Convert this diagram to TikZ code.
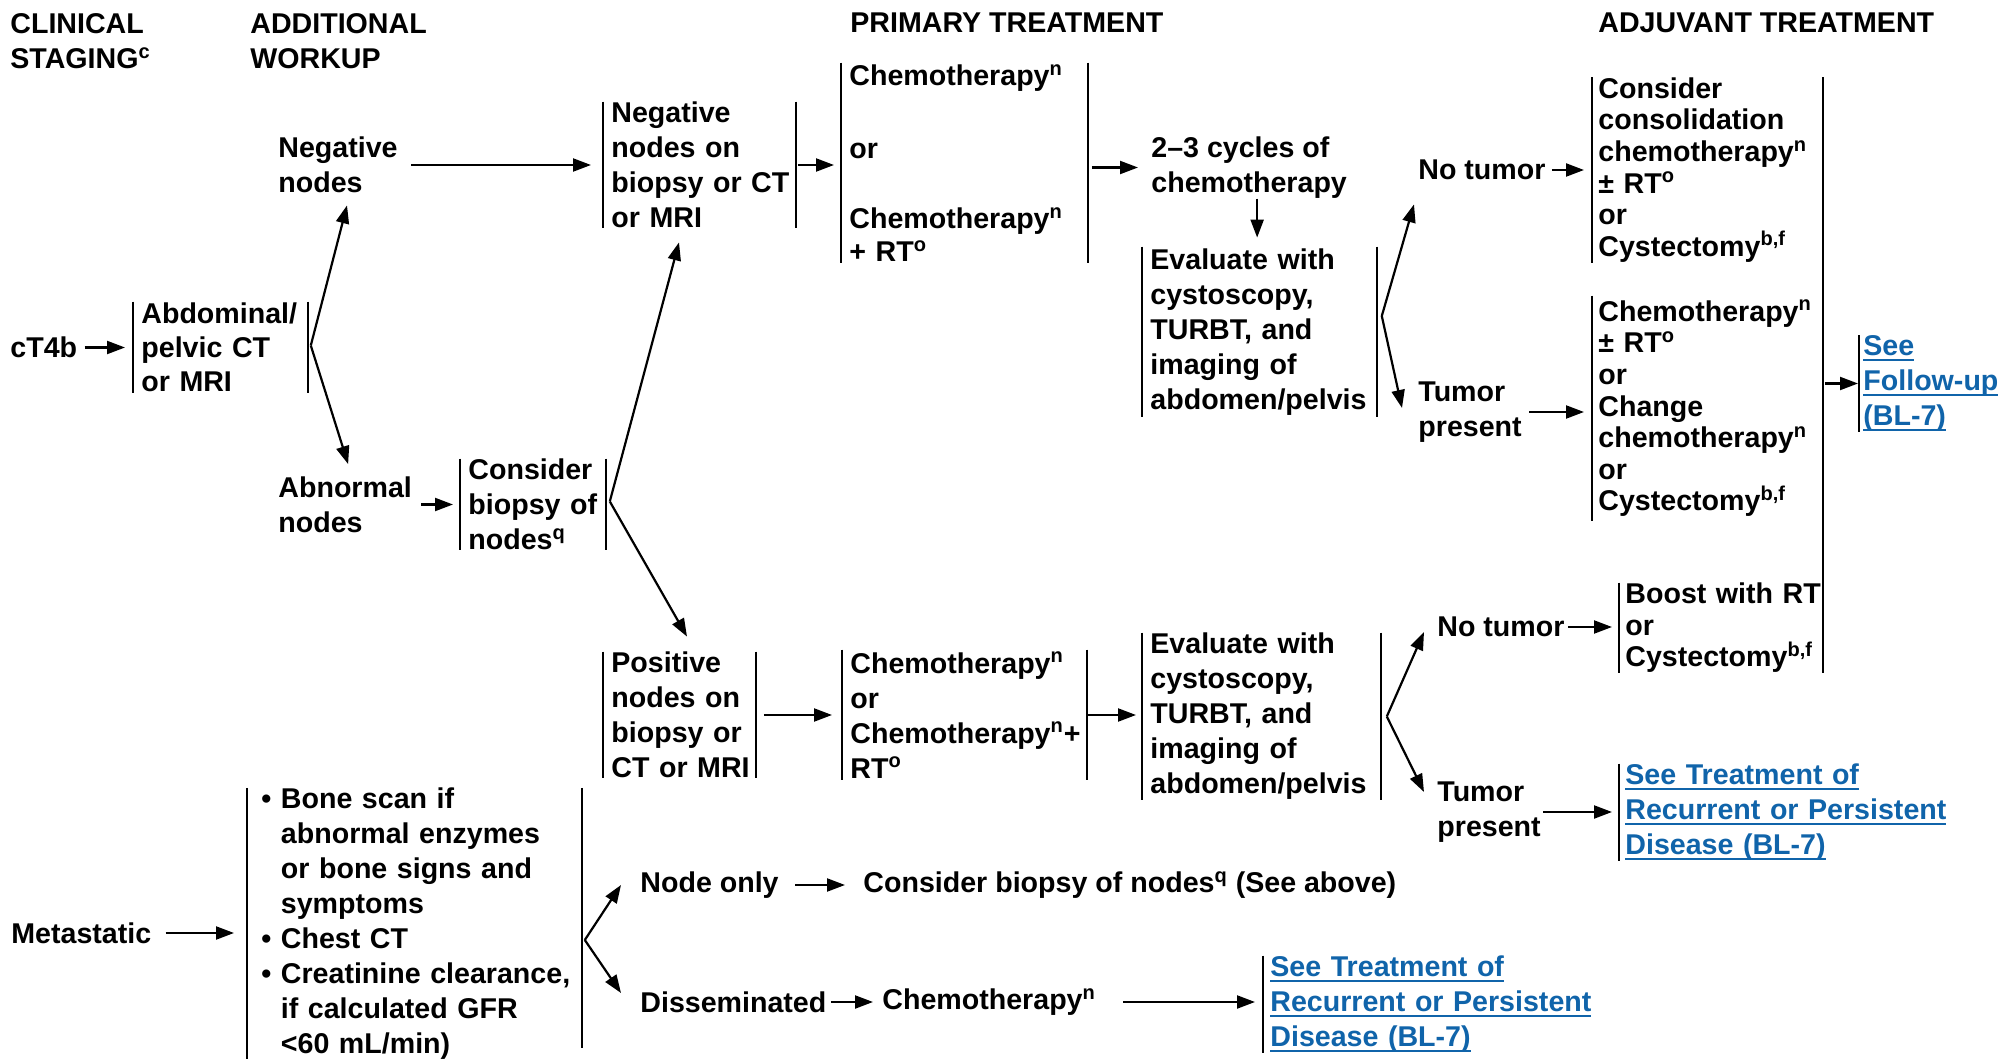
\documentclass[tikz,border=0pt]{standalone}
\usepackage{fontspec}
\setmainfont{Liberation Sans}
\usetikzlibrary{arrows.meta}
\definecolor{linkblue}{RGB}{16,100,170}
% superscript footnote letters
\newcommand{\sups}[1]{\textsuperscript{#1}}
% underlined link text, one line at a time
\newcommand{\lk}[1]{\leavevmode\setbox0\hbox{#1}\rlap{\rule[-2.5pt]{\wd0}{0.9pt}}\box0}
% bullet and the hanging indent of a bullet list
\newcommand{\itm}{\textbullet\ }
\newcommand{\ind}{\hphantom{\textbullet\ }}

\tikzset{
  every node/.style={font=\bfseries\fontsize{14.3pt}{17.5pt}\selectfont},
  lbl/.style={inner sep=0pt, anchor=west, align=left},
  bx/.style={inner xsep=4pt, inner ysep=0pt, anchor=west, align=left},
  tight/.style={font=\bfseries\fontsize{14.3pt}{15.8pt}\selectfont},
  lnk/.style={text=linkblue},
  arr/.style={line width=1.1pt, -{Triangle[length=9pt,width=6.5pt]}},
  bar/.style={line width=1pt},
}

\begin{document}
\begin{tikzpicture}[x=0.5pt,y=-0.5pt]
% the page: one unit is one pixel of the reference, y runs downwards
\fill[white] (0,0) rectangle (1999,1059);
\useasboundingbox (0,0) rectangle (1999,1059);
% column headings
\node[lbl] (hclin) at (10,41.5) {CLINICAL\\STAGING\sups{c}};
\node[lbl] (hwork) at (250,41.5) {ADDITIONAL\\WORKUP};
\node[lbl] (hprim) at (850,23) {PRIMARY TREATMENT};
\node[lbl] (hadj) at (1598,23) {ADJUVANT TREATMENT};
% cT4b branch, workup
\node[lbl] (ct4b) at (10,347.5) {cT4b};
\node[bx, text width=79pt, minimum height=45.5pt, font=\bfseries\fontsize{14.3pt}{17pt}\selectfont] (abd) at (133,347.5) {Abdominal/\\pelvic CT\\or MRI};
\node[lbl] (negn) at (278,165) {Negative\\nodes};
\node[lbl] (abn) at (278,504.5) {Abnormal\\nodes};
\node[bx, text width=64.5pt, minimum height=45.5pt] (cbiop) at (460,504.5) {Consider\\\mbox{biopsy of}\\nodes\sups{q}};
% negative nodes row
\node[bx, text width=88pt, minimum height=63pt] (negbx) at (603,165) {Negative\\nodes on\\\mbox{biopsy or CT}\\or MRI};
\node[bx, text width=115pt, minimum height=100pt] (chemo1) at (841,163) {Chemotherapy\sups{n}\\[19pt]or\\[17.5pt]Chemotherapy\sups{n}\\[-1pt]+ RT\sups{o}};
\node[lbl] (cycles) at (1151,167.5) {2--3 cycles of\\chemotherapy};
\node[bx, text width=109pt, minimum height=85pt] (eval1) at (1142,332) {Evaluate with\\cystoscopy,\\TURBT, and\\imaging of\\\mbox{abdomen/pelvis}};
% positive nodes row
\node[bx, text width=68pt, minimum height=63pt] (posbx) at (603,715) {Positive\\nodes on\\\mbox{biopsy or}\\\mbox{CT or MRI}};
\node[bx, text width=114pt, minimum height=65pt] (chemo2) at (842,715) {Chemotherapy\sups{n}\\or\\\mbox{Chemotherapy\sups{n}+}\\RT\sups{o}};
\node[bx, text width=111pt, minimum height=83.5pt] (eval2) at (1142,716.5) {Evaluate with\\cystoscopy,\\TURBT, and\\imaging of\\\mbox{abdomen/pelvis}};
% adjuvant column
\node[lbl] (notum1) at (1418,170) {No tumor};
\node[lbl] (tum1) at (1418,412) {Tumor\\present};
\node[bx, tight, inner xsep=3pt, text width=109pt, minimum height=92pt] (consol) at (1592,170) {Consider\\consolidation\\chemotherapy\sups{n}\\± RT\sups{o}\\or\\Cystectomy\sups{b,f}};
\node[bx, tight, inner xsep=3pt, text width=109pt, minimum height=112.5pt] (change) at (1592,408.5) {Chemotherapy\sups{n}\\± RT\sups{o}\\or\\Change\\chemotherapy\sups{n}\\or\\Cystectomy\sups{b,f}};
\node[bx, lnk, inner xsep=2pt, text width=70pt, minimum height=47.5pt] (follow) at (1859,383.5) {\lk{See}\\\lk{Follow-up}\\\lk{(BL-7)}};
\node[lbl] (notum2) at (1437,627) {No tumor};
\node[lbl] (tum2) at (1437,812) {Tumor\\present};
\node[bx, tight, inner xsep=3pt, text width=100pt, minimum height=45pt] (boost) at (1619,628) {Boost with RT\\or\\Cystectomy\sups{b,f}};
\node[bx, lnk, inner xsep=3pt, text width=165pt, minimum height=48.5pt] (seetr1) at (1619,812.5) {\lk{See Treatment of}\\\lk{Recurrent or Persistent}\\\lk{Disease (BL-7)}};
% metastatic row
\node[lbl] (metal) at (11,933) {Metastatic};
\node[bx, inner xsep=7pt, text width=153pt, minimum height=128pt] (meta) at (247,924) {\itm Bone scan if\\\ind abnormal enzymes\\\ind or bone signs and\\\ind symptoms\\\itm Chest CT\\\mbox{\itm Creatinine clearance,}\\\ind if calculated GFR\\\ind <60 mL/min)};
\node[lbl] (nodeonly) at (640,885) {Node only};
\node[lbl] (consbx) at (863,885) {Consider biopsy of nodes\sups{q} (See above)};
\node[lbl] (dissem) at (640,1002) {Disseminated};
\node[lbl] (chemo3) at (882,1002) {Chemotherapy\sups{n}};
\node[bx, lnk, inner xsep=3.5pt, text width=165pt, minimum height=48.5pt] (seetr2) at (1263,1004.5) {\lk{See Treatment of}\\\lk{Recurrent or Persistent}\\\lk{Disease (BL-7)}};
% the brackets round the boxes
\foreach \n in {abd,negbx,chemo1,eval1,cbiop,posbx,chemo2,eval2}
  \draw[bar] (\n.north east) -- (\n.south east);
\foreach \n in {abd,negbx,chemo1,eval1,cbiop,posbx,chemo2,eval2,consol,change,boost,follow,seetr1,seetr2}
  \draw[bar] (\n.north west) -- (\n.south west);
\draw[bar] (meta.north west) -- (meta.west |- 0,1059);
\draw[bar, shorten >=6pt] (meta.north east) -- (meta.south east);
% one long bracket closes the whole adjuvant column
\draw[bar] (consol.north east) -- (consol.east |- boost.south);
% straight arrows
\draw[arr, shorten <=3.5pt, shorten >=4pt] (ct4b) -- (abd);
\draw[arr, shorten <=6.5pt, shorten >=6pt] (negn) -- (negbx);
\draw[arr, shorten <=1pt, shorten >=3.5pt] (negbx.east) -- (negbx.east -| chemo1.west);
\draw[arr, shorten <=2pt, shorten >=6.5pt] (chemo1.east |- cycles.west) -- (cycles.west);
\draw[arr, shorten >=4.5pt] ([xshift=4pt]cycles.south) -- ([xshift=4pt]cycles.south |- eval1.north);
\draw[arr, shorten <=4.5pt, shorten >=3.5pt] (abn) -- (cbiop);
\draw[arr, shorten <=4pt, shorten >=5pt] (posbx) -- (chemo2);
\draw[arr, shorten >=3pt] (chemo2.east) -- (chemo2.east -| eval2.west);
\draw[arr, shorten <=3pt, shorten >=4pt] (notum1) -- (notum1 -| consol.west);
\draw[arr, shorten <=3.5pt, shorten >=4pt] (tum1) -- (tum1 -| change.west);
\draw[arr, shorten <=1pt, shorten >=0.5pt] (consol.east |- follow.west) -- (follow.west);
\draw[arr, shorten <=1.5pt, shorten >=3.5pt] (notum2) -- (notum2 -| boost.west);
\draw[arr, shorten <=1pt, shorten >=3.5pt] (tum2) -- (tum2 -| seetr1.west);
\draw[arr, shorten <=7pt, shorten >=6.5pt] (metal) -- (metal -| meta.west);
\draw[arr, shorten <=8pt, shorten >=9pt] (nodeonly) -- (consbx);
\draw[arr, shorten <=2pt, shorten >=4.5pt] (dissem) -- (dissem -| chemo3.west);
\draw[arr, shorten <=13.5pt, shorten >=4pt] (chemo3.east |- dissem) -- (seetr2.west |- dissem);
% forks: two arrows leave one point beside a bracket
\coordinate (abdfork) at ([xshift=1.5pt,yshift=1pt]abd.east);
\draw[arr] (abdfork) -- ([xshift=4.5pt,yshift=-6pt]negn.south);
\draw[arr] (abdfork) -- ([xshift=1.5pt,yshift=6pt]abn.north);
\coordinate (cbfork) at ([xshift=2pt,yshift=1.5pt]cbiop.east);
\draw[arr] (cbfork) -- ([xshift=38pt,yshift=-7pt]negbx.south west);
\draw[arr] (cbfork) -- ([xshift=42pt,yshift=7.5pt]posbx.north west);
\coordinate (e1fork) at ([xshift=2.5pt,yshift=8pt]eval1.east);
\draw[arr] (e1fork) -- ([xshift=-2pt,yshift=-12pt]notum1.south west);
\draw[arr] (e1fork) -- ([xshift=-8pt,yshift=2pt]tum1.west);
\coordinate (e2fork) at ([xshift=3pt,yshift=0pt]eval2.east);
\draw[arr] (e2fork) -- ([xshift=-6.5pt,yshift=-2.5pt]notum2.west);
\draw[arr] (e2fork) -- ([xshift=-6.5pt,yshift=10pt]tum2.west);
\coordinate (mfork) at ([xshift=1.5pt,yshift=-8pt]meta.east);
\draw[arr] (mfork) -- ([xshift=-9.5pt]nodeonly.west);
\draw[arr] (mfork) -- ([xshift=-9.5pt,yshift=4.5pt]dissem.west);
\end{tikzpicture}
\end{document}
